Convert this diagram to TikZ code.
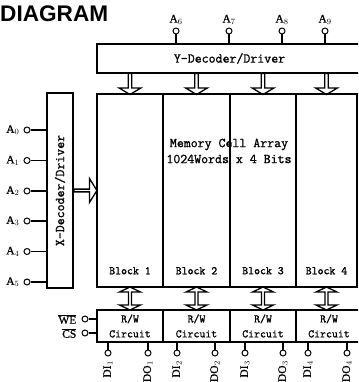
\documentclass[tikz,border=0pt]{standalone}
\usepackage{fontspec}
\setmainfont{Liberation Serif}
\newfontfamily\titlefont{Liberation Sans}
\newfontfamily\chipfont{Latin Modern Mono}[FakeBold=1.2]
\newfontfamily\pinfont{Liberation Serif}[FakeBold=0.8]
\usetikzlibrary{shapes.arrows,calc,positioning}

\tikzset{
	box/.style={draw, line width=1.4pt, inner sep=0pt},
	pin/.style={draw, circle, line width=1pt, inner sep=0pt, minimum size=6pt},
	wire/.style={line width=1.3pt},
	pinname/.style={font=\pinfont\fontsize{11.5}{13}\selectfont, inner sep=1pt},
	bigtext/.style={font=\chipfont\fontsize{13.5}{16}\selectfont},
	smalltext/.style={font=\chipfont\fontsize{11.5}{15}\selectfont},
	fatdown/.style={draw, line width=1.3pt, single arrow, rotate=-90, inner sep=0pt,
		minimum height=21pt, minimum width=22pt, single arrow head extend=3.5pt,
		single arrow tip angle=118},
	fatright/.style={draw, line width=1.3pt, single arrow, inner sep=0pt,
		minimum height=23pt, minimum width=24pt, single arrow head extend=5pt,
		single arrow tip angle=116},
	fatboth/.style={draw, line width=1.3pt, double arrow, rotate=90, inner sep=0pt,
		minimum height=23pt, minimum width=21pt, double arrow head extend=4pt,
		double arrow tip angle=129}
}

\begin{document}
\begin{tikzpicture}[x=1pt,y=-1pt]
	\clip (0,0) rectangle (358,382);
	\useasboundingbox (0,0) rectangle (358,382);
	
	\node[font=\titlefont\bfseries\fontsize{22.6}{24}\selectfont, anchor=base west, inner sep=0pt] (title) at (0,22) {DIAGRAM};
	
	% decoders
	\node[box, bigtext, minimum width=265pt, minimum height=29pt] (ydec) at (229.5,58.5) {Y-Decoder/Driver};
	\node[box, minimum width=26pt, minimum height=195pt] (xdec) at (60,190.5) {};
	\node[bigtext, rotate=90] (xdectext) at (xdec) {X-Decoder/Driver};
	
	% memory array
	\node[box, minimum width=66pt, minimum height=193pt] (block1) at (130,190.5) {};
	\node[box, minimum width=67pt, minimum height=193pt] (block2) at (196.5,190.5) {};
	\node[box, minimum width=66pt, minimum height=193pt] (block3) at (263,190.5) {};
	\node[box, minimum width=61pt, minimum height=193pt] (block4) at (326.5,190.5) {};
	\node[bigtext, align=center] (mca) at (229,151) {Memory Cell Array\\1024Words x 4 Bits};
	\foreach \n in {1,...,4}
		\node[smalltext] (blocklabel\n) at ([yshift=17pt]block\n.south) {Block \n};
	
	% read/write
	\node[box, smalltext, align=center, minimum width=66pt, minimum height=32pt] (rw1) at (130,326) {R/W\\Circuit};
	\node[box, smalltext, align=center, minimum width=67pt, minimum height=32pt] (rw2) at (196.5,326) {R/W\\Circuit};
	\node[box, smalltext, align=center, minimum width=66pt, minimum height=32pt] (rw3) at (263,326) {R/W\\Circuit};
	\node[box, smalltext, align=center, minimum width=66pt, minimum height=32pt] (rw4) at (329,326) {R/W\\Circuit};
	
	% hollow arrows
	\node[fatright] (xarrow) at ($(xdec.east)!0.5!(xdec.east -| block1.west)$) {};
	\foreach \n in {1,...,4} {
		\node[fatdown] (yarrow\n) at ($(block\n.north)!0.5!(block\n.north |- ydec.south)$) {};
		\node[fatboth] (rwarrow\n) at ($(block\n.south)!0.5!(block\n.south |- rw\n.north)$) {};
	}
	
	% address pins
	\foreach \n/\x in {6/176,7/229,8/282,9/325} {
		\node[pin] (a\n) at (\x,31) {};
		\node[pinname, above=2pt of a\n] (a\n name) {A$_\n$};
		\draw[wire] (a\n) -- (a\n |- ydec.north);
	}
	\foreach \n/\y in {0/130,1/160.5,2/191,3/221,4/251.5,5/282} {
		\node[pin] (a\n) at (27,\y) {};
		\node[pinname, left=3pt of a\n] (a\n name) {A$_\n$};
		\draw[wire] (a\n) -- (a\n -| xdec.west);
	}
	
	% control pins
	\node[pin] (we) at (85,319) {};
	\node[pinname, left=4pt of we] (wename) {$\overline{\mbox{WE}}$};
	\draw[wire] (we) -- (we -| rw1.west);
	\node[pin] (cs) at (85,333) {};
	\node[pinname, left=4pt of cs] (csname) {$\overline{\mbox{CS}}$};
	\draw[wire] (cs) -- (cs -| rw1.west);
	
	% data pins
	\foreach \n/\xi/\xo in {1/108/148,2/177/215,3/245/283,4/308/347} {
		\node[pin] (di\n) at (\xi,353) {};
		\draw[wire] (di\n) -- (di\n |- rw\n.south);
		\node[pinname, rotate=90, anchor=east] (di\n name) at ([yshift=-3pt]di\n.south) {DI$_\n$};
		\node[pin] (do\n) at (\xo,353) {};
		\draw[wire] (do\n) -- (do\n |- rw\n.south);
		\node[pinname, rotate=90, anchor=east] (do\n name) at ([yshift=-3pt]do\n.south) {DO$_\n$};
	}
\end{tikzpicture}
\end{document}
